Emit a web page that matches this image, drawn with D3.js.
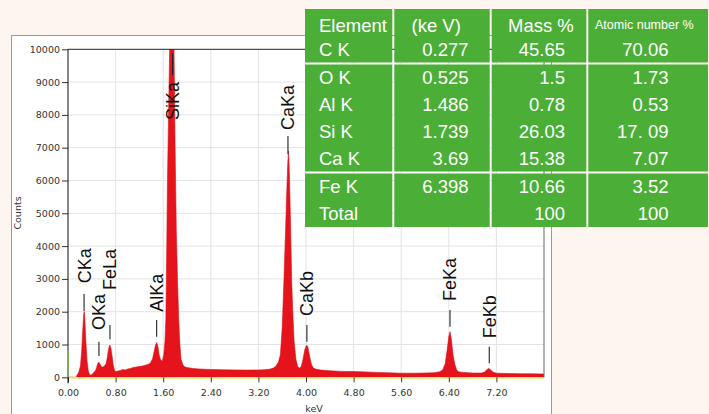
<!DOCTYPE html>
<html><head><meta charset="utf-8">
<script src="https://cdn.jsdelivr.net/npm/d3@7"></script>
<style>
html,body{margin:0;padding:0;background:#fdf6f0;}
svg{display:block;}
.tick text{font-family:"DejaVu Sans",sans-serif;font-size:9.5px;fill:#333;}
</style></head><body>
<svg id="chart" width="709" height="414"></svg>
<script>
// spectrum (keV, counts)
const energyKeV = [0,0.14,0.15,0.18,0.21,0.23,0.25,0.265,0.275,0.285,0.30,0.32,0.34,0.36,0.38,0.40,0.42,0.44,0.46,0.48,0.50,0.52,0.54,0.56,0.58,0.60,0.62,0.64,0.66,0.68,0.70,0.72,0.74,0.76,0.78,0.80,0.84,0.88,0.92,0.96,1.00,1.05,1.10,1.15,1.20,1.25,1.30,1.34,1.38,1.42,1.45,1.47,1.49,1.51,1.53,1.55,1.57,1.59,1.61,1.63,1.645,1.66,1.67,1.69,1.71,1.73,1.745,1.76,1.78,1.80,1.82,1.84,1.86,1.88,1.90,1.93,1.96,2.00,2.10,2.20,2.30,2.40,2.60,2.80,3.00,3.20,3.30,3.40,3.46,3.50,3.54,3.57,3.60,3.63,3.66,3.69,3.705,3.72,3.74,3.76,3.78,3.80,3.83,3.86,3.89,3.92,3.95,3.98,4.01,4.03,4.06,4.09,4.12,4.16,4.25,4.40,4.60,4.80,5.00,5.20,5.40,5.60,5.80,6.00,6.15,6.25,6.30,6.34,6.37,6.40,6.42,6.44,6.47,6.50,6.53,6.56,6.65,6.80,6.95,7.00,7.04,7.07,7.10,7.14,7.20,7.40,7.60,7.80,8.00];
const countsAt = [0,0,60,150,350,800,1500,1950,2000,1700,1100,500,200,90,70,80,120,160,200,290,420,460,400,330,310,330,360,420,600,850,985,900,650,380,220,170,190,210,235,220,250,270,300,315,330,345,370,390,420,560,800,980,1060,950,700,560,500,520,700,1100,1800,4000,5800,8000,10200,12500,13500,12500,10300,7000,4500,3000,1800,1000,550,380,320,300,270,255,245,240,230,225,220,225,230,250,290,350,480,700,1500,3000,4700,6400,6900,6300,4700,2900,1900,1100,550,330,280,330,550,850,980,930,650,400,290,250,220,200,180,175,165,150,135,125,125,130,140,170,230,420,800,1250,1390,1200,700,400,230,170,150,130,130,160,230,275,230,160,125,115,110,105,100];
const yTicks = [0,1000,2000,3000,4000,5000,6000,7000,8000,9000,10000];
const xTicks = [0,0.8,1.6,2.4,3.2,4.0,4.8,5.6,6.4,7.2];

// peak labels: name, energy, tick line top/bottom and text start (in counts)
const peakNames = ['CKa','OKa','FeLa','AlKa','SiKa','CaKa','CaKb','FeKa','FeKb'];
const peakKeV   = [0.27,0.52,0.705,1.49,1.757,3.697,4.015,6.42,7.08];
const lineTop   = [2540,1085,1594,1747,9878,7357,1594,2052,933];
const lineBot   = [2021,649,1159,1238,9216,6808,1085,1543,427];
const textStart = [2866,1442,2662,2000,7845,7540,1869,2326,1189];

// table
const tableHeader = ['Element','(ke V)','Mass %','Atomic number %'];
const elements  = ['C K','O K','Al K','Si K','Ca K','Fe K','Total'];
const energies  = ['0.277','0.525','1.486','1.739','3.69','6.398',''];
const massPct   = ['45.65','1.5','0.78','26.03','15.38','10.66','100'];
const atomicPct = ['70.06','1.73','0.53','17. 09','7.07','3.52','100'];

const svg = d3.select('#chart');
const P = {l:68, r:544, t:49.3, b:377.3};
const x = d3.scaleLinear().domain([0,8]).range([P.l,P.r]);
const y = d3.scaleLinear().domain([0,10000]).range([P.b,P.t]);

// panel
svg.append('rect').attr('x',11.5).attr('y',35.5).attr('width',540).attr('height',400)
  .attr('fill','#fff').attr('stroke','#9a9a9a');

// grid
const grid = svg.append('g').attr('stroke','#e3e3e8').attr('stroke-width',1);
grid.selectAll('.gy').data(yTicks.slice(1,-1)).join('line')
  .attr('x1',P.l).attr('x2',P.r).attr('y1',d=>y(d)).attr('y2',d=>y(d));
grid.selectAll('.gx').data(xTicks.slice(1)).join('line')
  .attr('y1',P.t).attr('y2',P.b).attr('x1',d=>x(d)).attr('x2',d=>x(d));

// spectrum
svg.append('clipPath').attr('id','clip').append('rect')
  .attr('x',P.l).attr('y',P.t).attr('width',P.r-P.l).attr('height',P.b-P.t);
const spec = energyKeV.map((k,i)=>({k, c:countsAt[i]}));
const area = d3.area().x(d=>x(d.k)).y0(y(0)).y1(d=>y(d.c));
svg.append('path').datum(spec).attr('clip-path','url(#clip)')
  .attr('d',area).attr('fill','#e5131c').attr('stroke','#dc111a').attr('stroke-width',0.6);

// baseline + frame
svg.append('line').attr('x1',P.l).attr('x2',P.r).attr('y1',P.b+0.6).attr('y2',P.b+0.6)
  .attr('stroke','#f1e23c').attr('stroke-width',1.3);
svg.append('line').attr('x1',P.l).attr('x2',P.r).attr('y1',P.t).attr('y2',P.t)
  .attr('stroke','#222').attr('stroke-width',1);
svg.append('line').attr('x1',P.r).attr('x2',P.r).attr('y1',P.t).attr('y2',P.b)
  .attr('stroke','#666').attr('stroke-width',1);

// axes
const ya = svg.append('g').attr('transform',`translate(${P.l},0)`)
  .call(d3.axisLeft(y).tickValues(yTicks).tickFormat(d3.format('d')).tickSize(6).tickPadding(2));
ya.select('.domain').remove();
ya.selectAll('.tick line').attr('stroke','#333');
const xa = svg.append('g').attr('transform',`translate(0,${P.b})`)
  .call(d3.axisBottom(x).tickValues(xTicks).tickFormat(d3.format('.2f')).tickSize(5).tickPadding(7));
xa.select('.domain').remove();
xa.selectAll('.tick line').attr('stroke','#333');
svg.append('line').attr('x1',P.l).attr('x2',P.l).attr('y1',P.t).attr('y2',P.b+6)
  .attr('stroke','#111').attr('stroke-width',1);
svg.append('line').attr('x1',P.l).attr('x2',P.l).attr('y1',y(800)).attr('y2',P.b)
  .attr('stroke','#7cc242').attr('stroke-width',1.2);

svg.append('text').attr('x',314).attr('y',412).attr('text-anchor','middle')
  .attr('font-family','DejaVu Sans, sans-serif').attr('font-size',9.5).attr('fill','#333').text('keV');
svg.append('text').attr('transform','translate(18,213) rotate(-90)').attr('text-anchor','middle')
  .attr('dy','0.35em').attr('font-family','DejaVu Sans, sans-serif').attr('font-size',9.5)
  .attr('fill','#333').text('Counts');

// peak labels
const lab = svg.append('g');
peakNames.forEach((n,i)=>{
  const px = x(peakKeV[i]);
  lab.append('line').attr('x1',px).attr('x2',px).attr('y1',y(lineTop[i])).attr('y2',y(lineBot[i]))
    .attr('stroke','#222').attr('stroke-width',1.1);
  lab.append('text').attr('transform',`translate(${px},${y(textStart[i])}) rotate(-90)`)
    .attr('dy','0.36em').attr('font-family','Liberation Sans, Arial, sans-serif')
    .attr('font-size',18).attr('fill','#111').text(n);
});

// table
const colEdge = [305,393.3,490.7,587.3,708];
const tTop = 9, tBot = 227;
const row = d3.scaleBand().domain(d3.range(8)).range([tTop,tBot]);
const groups = [[0,2],[2,6],[6,8]];
const tg = svg.append('g');
groups.forEach(([a,b])=>{
  for(let c=0;c<4;c++){
    const x0 = colEdge[c]+(c>0?1:0), x1 = colEdge[c+1]-(c<3?1:0);
    const y0 = row(a)+(a>0?1:0), y1 = (b<8?row(b):tBot)-(b<8?1:0);
    tg.append('rect').attr('x',x0).attr('y',y0).attr('width',x1-x0).attr('height',y1-y0)
      .attr('fill','#4bae37');
  }
});
const tf = 'Liberation Sans, Arial, sans-serif';
const headerX = [319,411.5,508,595];
tableHeader.forEach((h,i)=>{
  tg.append('text').attr('x',headerX[i]).attr('y',i===3?28.5:31.5)
    .attr('font-family',tf).attr('font-size',i===3?12.5:18.5).attr('fill','#fff').text(h);
});
const cols = [elements,energies,massPct,atomicPct];
const colX = [319,468.5,565,668.5];
cols.forEach((col,c)=>{
  tg.selectAll(null).data(col).join('text')
    .attr('x',colX[c]).attr('y',(d,i)=>row(i+1)+row.bandwidth()/2+6.6)
    .attr('text-anchor',c===0?'start':'end')
    .attr('font-family',tf).attr('font-size',18.5).attr('fill','#fff').text(d=>d);
});
</script>
</body></html>
